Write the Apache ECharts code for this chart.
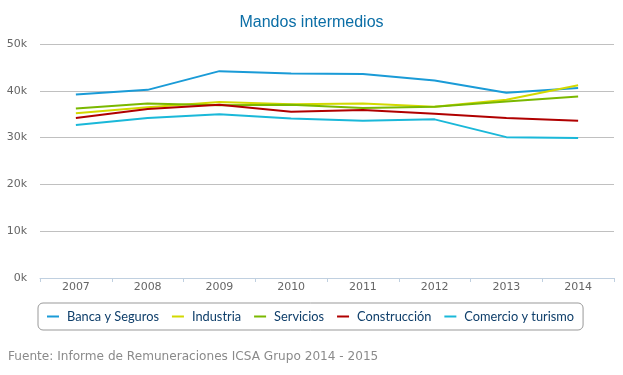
<!DOCTYPE html>
<html><head><meta charset="utf-8">
<script src="https://cdn.jsdelivr.net/npm/echarts@6/dist/echarts.min.js"></script>
<style>html,body{margin:0;padding:0;background:#fff}#c{width:623px;height:375px}</style>
</head><body><div id="c"></div>
<script>
const categories = ['2007','2008','2009','2010','2011','2012','2013','2014'];
const yTicks = [0, 10000, 20000, 30000, 40000, 50000];
const banca = [39200, 40200, 44200, 43700, 43600, 42200, 39600, 40600];
const industria = [35200, 36500, 37600, 37100, 37300, 36600, 38100, 41200];
const servicios = [36200, 37300, 36900, 37000, 36300, 36600, 37700, 38800];
const construccion = [34200, 36100, 37000, 35500, 35900, 35100, 34200, 33600];
const comercio = [32700, 34200, 35000, 34100, 33600, 33900, 30100, 29900];
const seriesNames = ['Banca y Seguros','Industria','Servicios','Construcción','Comercio y turismo'];
const seriesData = [banca, industria, servicios, construccion, comercio];
const colors = ['#1a9bd7','#d2d900','#7ab800','#b00000','#1ab8d9'];

const chart = echarts.init(document.getElementById('c'));
chart.setOption({
  animation: false,
  color: colors,
  title: [{
    text: 'Mandos intermedios', left: 'center', top: 10,
    textStyle: {fontFamily: 'Liberation Sans', fontSize: 16, fontWeight: 'normal', color: '#0b6ea6'}
  }, {
    text: 'Fuente: Informe de Remuneraciones ICSA Grupo 2014 - 2015', left: 8, top: 351, padding: 0,
    textStyle: {fontFamily: 'DejaVu Sans', fontSize: 12.1, fontWeight: 'normal', color: '#8a8a8a'}
  }],
  grid: {left: 40, right: 9, top: 44, bottom: 97},
  legend: {
    left: 38, top: 303,
    padding: [7, 9, 7, 9],
    borderColor: '#999', borderWidth: 1, borderRadius: 5,
    itemWidth: 12, itemHeight: 2, itemGap: 13,
    icon: 'rect',
    textStyle: {fontFamily: 'Lato', fontSize: 12.8, color: '#0e3e6a', padding: [0, 0, 0, 3]},
    data: seriesNames
  },
  xAxis: {
    type: 'category', data: categories, boundaryGap: true,
    axisLine: {lineStyle: {color: '#c0d0e0'}},
    axisTick: {show: true, length: 4, lineStyle: {color: '#c0d0e0'}},
    axisLabel: {color: '#666', fontFamily: 'DejaVu Sans', fontSize: 11, margin: 4}
  },
  yAxis: {
    type: 'value', min: 0, max: 50000, interval: 10000,
    axisLine: {show: false}, axisTick: {show: false},
    splitLine: {lineStyle: {color: '#c0c0c0'}},
    axisLabel: {color: '#666', fontFamily: 'DejaVu Sans', fontSize: 11, margin: 13,
      formatter: v => yTicks.includes(v) ? (v/1000) + 'k' : ''}
  },
  series: seriesData.map((d, i) => ({
    name: seriesNames[i], type: 'line', data: d,
    symbol: 'none', lineStyle: {width: 2}
  }))
});
</script></body></html>
